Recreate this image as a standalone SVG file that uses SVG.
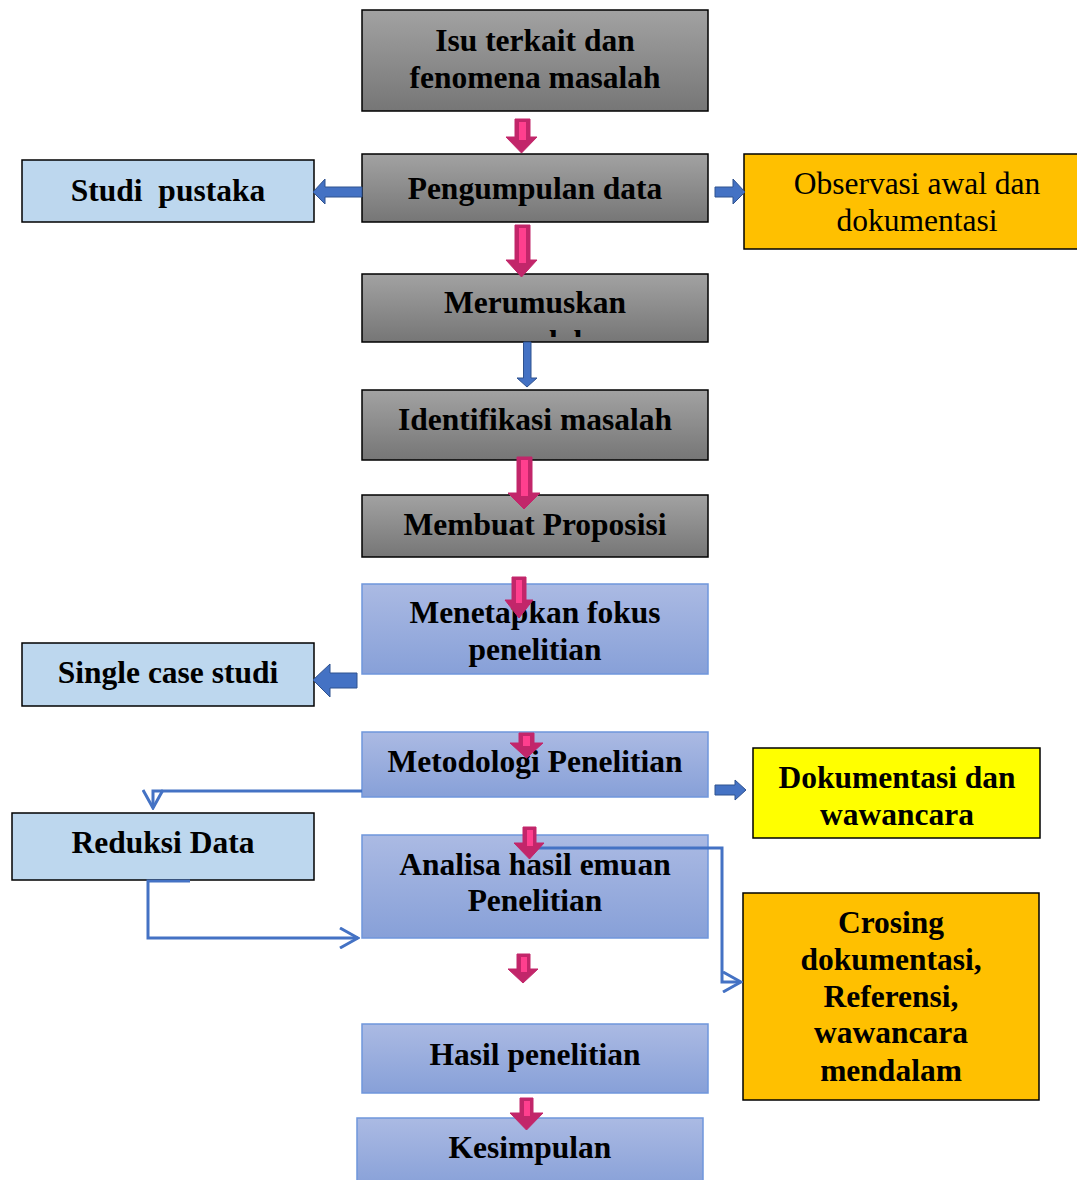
<svg xmlns="http://www.w3.org/2000/svg" width="1077" height="1180" viewBox="0 0 1077 1180">
<defs>
<linearGradient id="gGray" x1="0" y1="0" x2="0" y2="1"><stop offset="0" stop-color="#a2a2a2"/><stop offset="1" stop-color="#767676"/></linearGradient>
<linearGradient id="gBlue" x1="0" y1="0" x2="0" y2="1"><stop offset="0" stop-color="#abbae3"/><stop offset="1" stop-color="#87a0d8"/></linearGradient>
<clipPath id="clipMer"><rect x="363" y="275" width="344" height="62"/></clipPath>
<marker id="chev" viewBox="0 0 22 22" refX="20" refY="11" markerWidth="22" markerHeight="22" markerUnits="userSpaceOnUse" orient="auto">
<path d="M2,1 L20,11 L2,21" fill="none" stroke="#4472C4" stroke-width="3"/>
</marker>
<style>
.gray{fill:url(#gGray);stroke:#000;stroke-width:1.5}
.blue{fill:url(#gBlue);stroke:#6f96dc;stroke-width:1.5}
.lblue{fill:#bdd7ee;stroke:#000;stroke-width:1.5}
.orange{fill:#ffc000;stroke:#000;stroke-width:1.5}
.yellow{fill:#ffff00;stroke:#000;stroke-width:1.5}
text{font-family:"Liberation Serif","Times New Roman",serif;font-size:31.5px;fill:#000;text-anchor:middle}
.b{font-weight:bold}
.pk{fill:#c2266a;stroke:#c2266a;stroke-width:1}
.pki{fill:#ff3f8e}
.bl{fill:#4472c4;stroke:#2f528f;stroke-width:1}
.conn{fill:none;stroke:#4472c4;stroke-width:3}
</style>
</defs>

<g id="n-isu"><rect class="gray" x="362" y="10" width="346" height="101"/><text class="b" x="535" y="51">Isu terkait dan</text><text class="b" x="535" y="88">fenomena masalah</text></g>
<g id="n-pengumpulan"><rect class="gray" x="362" y="154" width="346" height="68"/><text class="b" x="535" y="199">Pengumpulan data</text></g>
<g id="n-studi"><rect class="lblue" x="22" y="160" width="292" height="62"/><text class="b" x="168" y="201" style="white-space:pre">Studi  pustaka</text></g>
<g id="n-observasi"><rect class="orange" x="744" y="154" width="340" height="95"/><text x="917" y="194">Observasi awal dan</text><text x="917" y="231">dokumentasi</text></g>
<g id="n-merumuskan"><rect class="gray" x="362" y="274" width="346" height="68"/><g clip-path="url(#clipMer)"><text class="b" x="535" y="313">Merumuskan</text><text class="b" x="535" y="352">masalah</text></g></g>
<g id="n-identifikasi"><rect class="gray" x="362" y="390" width="346" height="70"/><text class="b" x="535" y="430">Identifikasi masalah</text></g>
<g id="n-proposisi"><rect class="gray" x="362" y="495" width="346" height="62"/><text class="b" x="535" y="535">Membuat Proposisi</text></g>
<g id="n-fokus"><rect class="blue" x="362" y="584" width="346" height="90"/><text class="b" x="535" y="623">Menetapkan fokus</text><text class="b" x="535" y="660">penelitian</text></g>
<g id="n-single"><rect class="lblue" x="22" y="643" width="292" height="63"/><text class="b" x="168" y="683">Single case studi</text></g>
<g id="n-metodologi"><rect class="blue" x="362" y="732" width="346" height="65"/><text class="b" x="535" y="772">Metodologi Penelitian</text></g>
<g id="n-dokwaw"><rect class="yellow" x="753" y="748" width="287" height="90"/><text class="b" x="897" y="788">Dokumentasi dan</text><text class="b" x="897" y="825">wawancara</text></g>
<g id="n-reduksi"><rect class="lblue" x="12" y="813" width="302" height="67"/><text class="b" x="163" y="853">Reduksi Data</text></g>
<g id="n-analisa"><rect class="blue" x="362" y="835" width="346" height="103"/><text class="b" x="535" y="875">Analisa hasil emuan</text><text class="b" x="535" y="911">Penelitian</text></g>
<g id="n-crosing"><rect class="orange" x="743" y="893" width="296" height="207"/><text class="b" x="891" y="933">Crosing</text><text class="b" x="891" y="970">dokumentasi,</text><text class="b" x="891" y="1007">Referensi,</text><text class="b" x="891" y="1043">wawancara</text><text class="b" x="891" y="1081">mendalam</text></g>
<g id="n-hasil"><rect class="blue" x="362" y="1024" width="346" height="69"/><text class="b" x="535" y="1065">Hasil penelitian</text></g>
<g id="n-kesimpulan"><rect class="blue" x="357" y="1118" width="346" height="70"/><text class="b" x="530" y="1158">Kesimpulan</text></g>

<g id="connectors">
<path class="conn" d="M362,791 H153 V808" marker-end="url(#chev)"/>
<path class="conn" d="M190,881 H148 V938 H358" marker-end="url(#chev)"/>
<path class="conn" d="M533,848 H722 V982 H741" marker-end="url(#chev)"/>
<polygon class="bl" points="362,187 325,187 325,179 313,192 325,204 325,197 362,197"/>
<polygon class="bl" points="715,187 733,187 733,179 745,192 733,204 733,197 715,197"/>
<polygon class="bl" points="357,673 330,673 330,664 313,680 330,697 330,688 357,688"/>
<polygon class="bl" points="715,785 735,785 735,780 746,790 735,800 735,795 715,795"/>
<polygon class="bl" points="523.5,342 531,342 531,378 537,378 527,387 517,378 523.5,378"/>
<polygon class="pk" points="515,119 530,119 530,137 537,137 521.5,153 506,137 515,137"/>
<rect class="pki" x="519" y="122" width="7" height="18"/>
<polygon class="pk" points="515,225 530,225 530,260 537,260 521.5,277 506,260 515,260"/>
<rect class="pki" x="519" y="228" width="7" height="35"/>
<polygon class="pk" points="517,457 532,457 532,493 540,493 524,509 508,493 517,493"/>
<rect class="pki" x="521" y="460" width="7" height="36"/>
<polygon class="pk" points="512,577 526,577 526,600 533,600 519,618 505,600 512,600"/>
<rect class="pki" x="516" y="580" width="6" height="23"/>
<polygon class="pk" points="519,733 534,733 534,743 543,743 526.5,758 510,743 519,743"/>
<rect class="pki" x="523" y="736" width="7" height="10"/>
<polygon class="pk" points="523,827 536,827 536,843 544,843 529.5,859 514,843 523,843"/>
<rect class="pki" x="527" y="830" width="6" height="16"/>
<polygon class="pk" points="517,954 530,954 530,969 538,969 523,983 508,969 517,969"/>
<rect class="pki" x="521" y="957" width="6" height="15"/>
<polygon class="pk" points="520,1098 533,1098 533,1113 543,1113 526.5,1130 510,1113 520,1113"/>
<rect class="pki" x="524" y="1101" width="6" height="15"/>
</g>
</svg>
